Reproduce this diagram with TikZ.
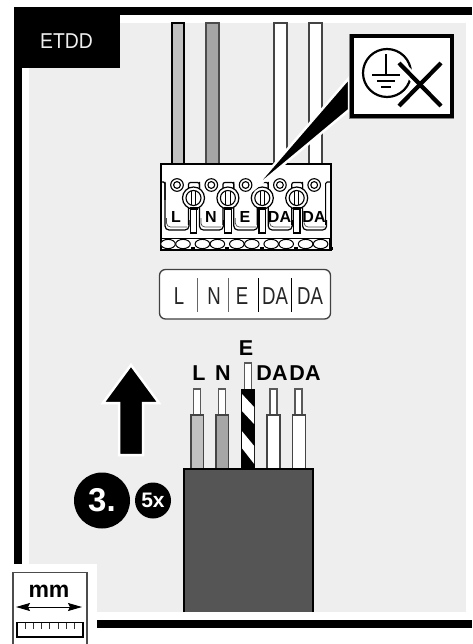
\documentclass[tikz,border=0pt]{standalone}
\usepackage{fontspec}
\setmainfont{Liberation Sans}
\newfontfamily\lightA[FakeStretch=0.76]{Liberation Sans}
\newfontfamily\lightB[FakeStretch=0.9]{Liberation Sans}
\usetikzlibrary{arrows.meta}
\definecolor{panel}{HTML}{EEEEEE}
\definecolor{wireL}{HTML}{C0C0C0}
\definecolor{wireN}{HTML}{A6A6A6}
\definecolor{cable}{HTML}{555555}
\definecolor{edgegrey}{HTML}{444444}
\tikzset{
  termlabel/.style={font=\bfseries\fontsize{16}{16}\selectfont,inner sep=0pt},
  wirelabel/.style={font=\bfseries\fontsize{21.5}{21.5}\selectfont,inner sep=0pt},
  striplabel/.style={font=\lightA\fontsize{24.5}{24.5}\selectfont,text=black!85,inner sep=0pt},
  wireedge/.style={draw=edgegrey,line width=1.3pt},
  core/.style={draw=black!65,fill=white,line width=1.2pt},
  blockline/.style={draw=black,line width=1.2pt},
  divider/.style={draw=black!60,line width=1pt},
  gndline/.style={black,line width=2.2pt}
}
\begin{document}
\begin{tikzpicture}[x=1pt,y=-1pt]
\useasboundingbox (0,0) rectangle (472,644);
\fill[white] (0,0) rectangle (472,644);
% panel
\fill[panel] (29,23) rectangle (466,612);
\fill[white] (0,564) rectangle (97,644);
% frame
\fill[black] (14,7) rectangle (472,15);
\fill[black] (14,7) rectangle (22,564);
\fill[black] (14,7) rectangle (120,68);
\fill[black] (97,620) rectangle (472,627.5);
\node[font=\lightB\fontsize{21.5}{21.5}\selectfont,text=panel,inner sep=0pt] (etdd) at (66.5,41) {ETDD};
% upper wires
\path[wireedge,draw=black,fill=wireL] (172,23) rectangle (184,165);
\path[wireedge,draw=black!70,fill=wireN] (206,23) rectangle (219,165);
\path[wireedge,fill=white] (274,23) rectangle (287,165);
\path[wireedge,fill=white] (309,23) rectangle (322,165);
% terminal block
\path[draw=black,line width=2pt,fill=white] (160.5,164) rectangle (330.5,250);
\path[draw=black,line width=1.5pt,fill=white] (161,238.5) rectangle (330,249.5);
\foreach \i in {0,...,4}{
  \pgfmathsetmacro{\xa}{168+34.4*\i}
  \pgfmathsetmacro{\xb}{183+34.4*\i}
  \path[draw=black,line width=1pt,fill=white] (\xa,244) ellipse [x radius=7.3,y radius=4.6];
  \path[draw=black,line width=1pt,fill=white] (\xb,244) ellipse [x radius=7.3,y radius=4.6];
  \fill[black] (\xb+8,247) rectangle (\xb+12,250);
}
% pockets
\draw[blockline,rounded corners=1.5pt] (161,182) -- (165,182) -- (165,200);
\foreach \i in {0,...,4}{
  \pgfmathsetmacro{\x}{165+34.4*\i}
  \draw[blockline,rounded corners=4pt] (\x,182) -- (\x,230) -- (\x+24,230) -- (\x+24,220);
  \draw[draw=black!70,line width=.7pt,rounded corners=4pt] (\x+1.5,218) -- (\x+1.5,227) -- (\x+22,227);
}
\foreach \i in {0,...,3}{
  \pgfmathsetmacro{\x}{165+34.4*\i}
  \draw[blockline,rounded corners=2pt] (\x+23.5,225) -- (\x+23.5,182.5) -- (\x+34.4,182.5) -- (\x+34.4,190);
}
\draw[blockline,rounded corners=1.5pt] (325.6,225) -- (325.6,182) -- (330,182);
% rings
\foreach \i in {0,...,4}{
  \pgfmathsetmacro{\x}{177+34.3*\i}
  \path[draw=black,line width=1.1pt,fill=white] (\x,185) circle [radius=6.3];
  \path[draw=black,line width=1.1pt,fill=white] (\x,185) circle [radius=3.4];
}
% pins and screws
\foreach \i in {0,...,3}{
  \pgfmathsetmacro{\x}{193.5+34.4*\i}
  \path[draw=black,line width=1.1pt,fill=white] (\x-3.3,205) rectangle (\x+3.3,233);
  \path[draw=black,line width=1.2pt,fill=white] (\x,198) circle [radius=11];
  \path[draw=black,line width=1.1pt,fill=white] (\x,198) circle [radius=7.5];
  \fill[black] (\x-4,207) rectangle (\x+4,210);
  \draw[black,line width=1pt] (\x-2.2,191) -- (\x-2.2,205) (\x+2.2,191) -- (\x+2.2,205);
}
\node[termlabel] (tL) at (176,216.5) {L};
\node[termlabel] (tN) at (211,216.5) {N};
\node[termlabel] (tE) at (245,216.5) {E};
\node[termlabel] (tDa) at (279.5,216.5) {DA};
\node[termlabel] (tDb) at (314,216.5) {DA};
% callout
\path[draw=white,line width=2.5pt,fill=black,line join=miter] (349,78) -- (250.5,192) -- (349,110) -- cycle;
\path[draw=black!50,line width=.8pt] (349,34) rectangle (453.5,118);
\path[draw=black,line width=4pt,fill=white] (351.5,36) rectangle (451.5,116);
\draw[gndline] (387,73) circle [radius=24];
\draw[gndline] (386,54) -- (386,75);
\draw[gndline] (372,75) -- (400,75);
\draw[gndline] (377,81) -- (395,81);
\draw[gndline] (381,87) -- (391,87);
\draw[white,line width=9pt] (399,63) -- (441,106);
\draw[white,line width=9pt] (399,106) -- (418,86);
\draw[black,line width=4.2pt] (399,63) -- (441,106);
\draw[black,line width=4.2pt] (441,63) -- (399,106);
% label strip
\path[draw=black!75,line width=1.3pt,fill=white,rounded corners=6pt] (159.5,269.5) rectangle (330.5,319);
\node[striplabel] (sL) at (179,296) {L};
\node[striplabel] (sN) at (214,296) {N};
\node[striplabel] (sE) at (242,296) {E};
\node[striplabel] (sDa) at (275,296) {DA};
\node[striplabel] (sDb) at (310,296) {DA};
\draw[divider] (197,278) -- (197,312);
\draw[divider] (228,278) -- (228,312);
\draw[divider,draw=black] (258.5,278) -- (258.5,312);
\draw[divider,draw=black] (291.5,278) -- (291.5,312);
% stripped wires
\path[core] (193.5,389) rectangle (200.5,416);
\path[core] (218.5,389) rectangle (225.5,416);
\path[core] (270,389) rectangle (277,416);
\path[core] (295,389) rectangle (302,416);
\path[core] (244.5,363) rectangle (251.5,390);
\path[wireedge,fill=wireL] (191,415) rectangle (203.5,469);
\path[wireedge,fill=wireN] (216,415) rectangle (228.5,469);
\path[wireedge,fill=white] (267,415) rectangle (280,469);
\path[wireedge,fill=white] (292.5,415) rectangle (305.5,469);
\fill[black] (240.7,389) rectangle (255.3,469);
\begin{scope}
\clip (242,389) rectangle (254,469);
\fill[white] (241,393) -- (255,408) -- (255,425) -- (241,410) -- cycle;
\fill[white] (241,430) -- (255,447) -- (255,465) -- (241,447) -- cycle;
\end{scope}
% cable
\path[draw=black,line width=2pt,fill=cable] (184,612) -- (184,468.5) -- (313,468.5) -- (313,612);
\node[wirelabel] (wL) at (199,373) {L};
\node[wirelabel] (wN) at (223,373) {N};
\node[wirelabel] (wE) at (246,348) {E};
\node[wirelabel] (wDa) at (272,373) {DA};
\node[wirelabel] (wDb) at (305,373) {DA};
% big arrow
\path[draw=white,line width=2.5pt,fill=black,line join=miter] (131,365) -- (159,403) -- (143,403) -- (143,455) -- (119,455) -- (119,403) -- (103,403) -- cycle;
% step badges
\node[circle,fill=black,text=white,minimum size=56pt,inner sep=0pt,font=\bfseries\fontsize{33}{33}\selectfont] (stepbadge) at (102,500.5) {3.};
\node[circle,fill=black,text=white,minimum size=36pt,inner sep=0pt,font=\bfseries\fontsize{21}{21}\selectfont] (times) at (153,500.5) {5x};
% mm box
\draw[black!70,line width=1.3pt] (13,644) -- (13,572.5) -- (87,572.5) -- (87,644);
\node[font=\bfseries\fontsize{23}{23}\selectfont,inner sep=0pt] (mm) at (49,591) {mm};
\coordinate (mmL) at (16,607);
\coordinate (mmR) at (82,607);
\draw[black,line width=1pt,{Stealth[length=14pt,width=8pt,inset=2pt]}-{Stealth[length=14pt,width=8pt,inset=2pt]}] (mmL) -- (mmR);
\path[draw=black,line width=1.5pt,fill=white] (17,622.5) rectangle (83,637);
\foreach \i in {1,...,7}{
  \draw[black!80,line width=1pt] (17+8.2*\i,622.5) -- (17+8.2*\i,629);
}
\end{tikzpicture}
\end{document}
